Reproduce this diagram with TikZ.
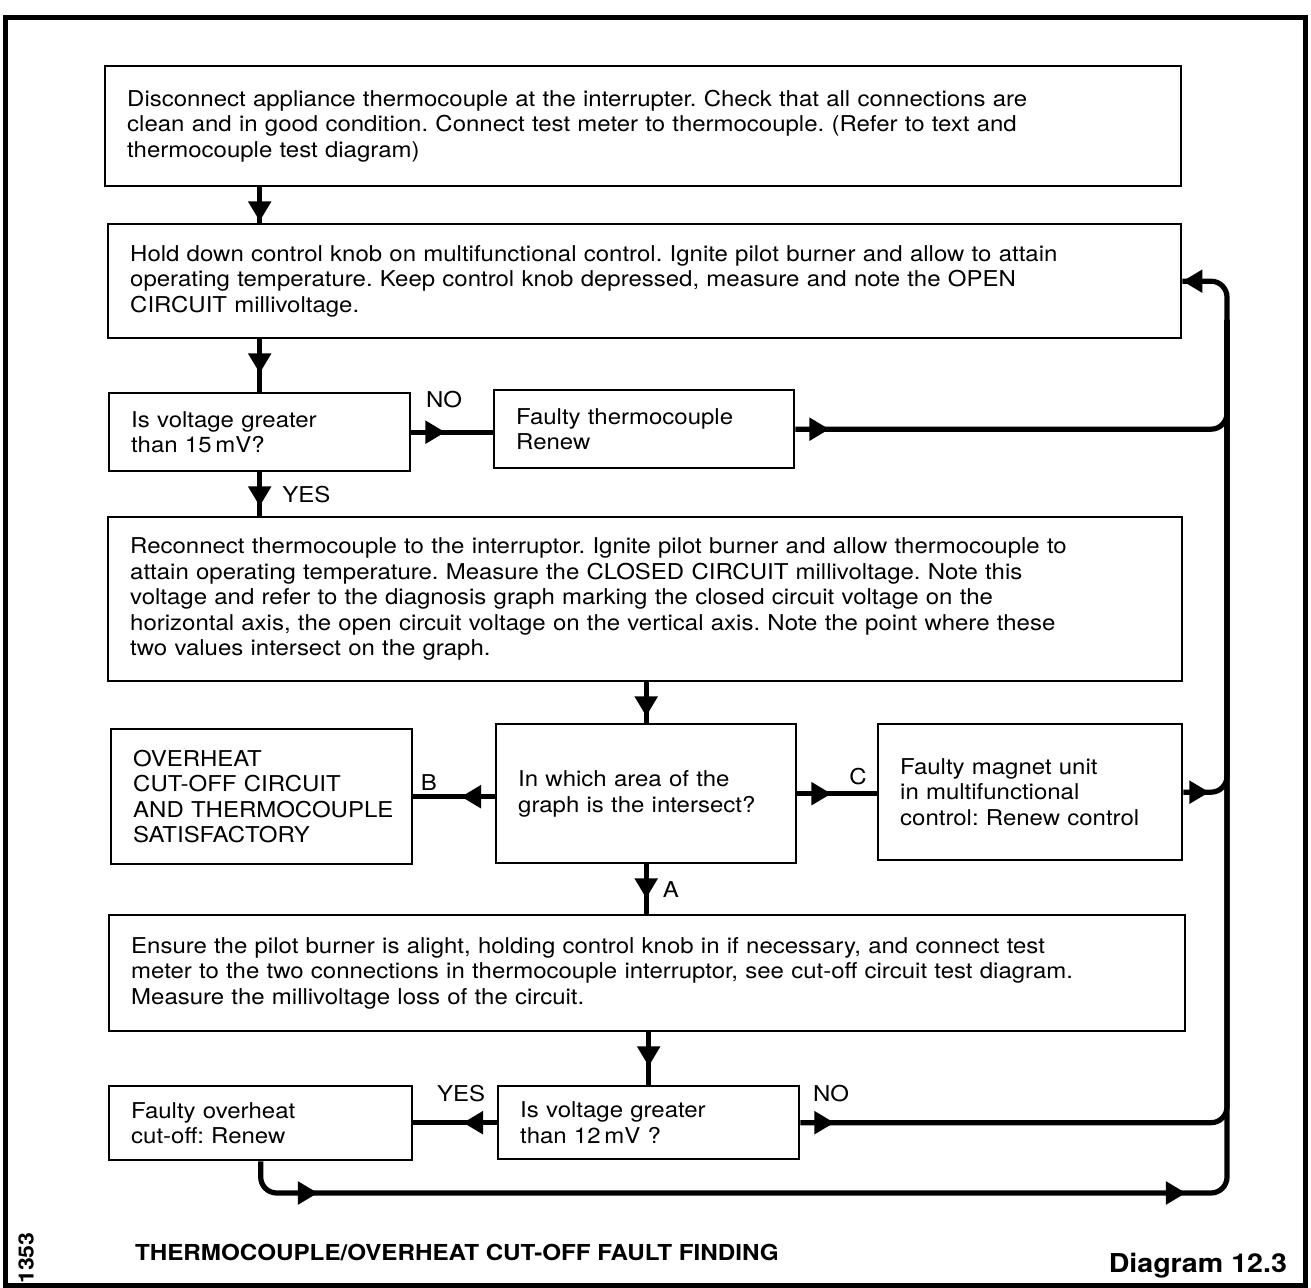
\documentclass[tikz,border=0pt]{standalone}
\usepackage{fontspec}
\setmainfont{TeX Gyre Heros}[FakeStretch=1.1]
\usetikzlibrary{arrows.meta,decorations.markings}
\frenchspacing

\begin{document}
\begin{tikzpicture}[x=0.5pt, y=-0.5pt,
  box/.style={draw, line width=1.2pt, anchor=north west, align=left,
    inner xsep=11pt, inner ysep=2pt, font=\fontsize{10.9}{12.75}\selectfont},
  link/.style={line width=2.6pt, rounded corners=8pt},
  tipat/.style={postaction={decorate, decoration={markings,
    mark=at position #1 with {\arrow{Triangle[length=10pt,width=11pt]}}}}},
  lbl/.style={font=\fontsize{10.9}{12}\selectfont, inner sep=2pt}]
  \useasboundingbox (0,0) rectangle (1311,1288);
  \draw[line width=2.5pt] (5,18) rectangle (1305,1285);

  \node[box, text width=516pt, minimum height=60pt] (disc) at (104,65)
    {Disconnect appliance thermocouple at the interrupter. Check that all connections are\\
     clean and in good condition. Connect test meter to thermocouple. (Refer to text and\\
     thermocouple test diagram)};
  \node[box, text width=514.5pt, minimum height=57pt] (hold) at (107,223)
    {Hold down control knob on multifunctional control. Ignite pilot burner and allow to attain\\
     operating temperature. Keep control knob depressed, measure and note the OPEN\\
     CIRCUIT millivoltage.};
  \node[box, text width=128.5pt, minimum height=39pt] (q15) at (108,392)
    {Is voltage greater\\ than 15\,mV?};
  \node[box, text width=128pt, minimum height=39pt] (fault) at (493,389)
    {Faulty thermocouple\\ Renew};
  \node[box, text width=515pt, minimum height=82pt] (recon) at (107,516)
    {Reconnect thermocouple to the interruptor. Ignite pilot burner and allow thermocouple to\\
     attain operating temperature. Measure the CLOSED CIRCUIT millivoltage. Note this\\
     voltage and refer to the diagnosis graph marking the closed circuit voltage on the\\
     horizontal axis, the open circuit voltage on the vertical axis. Note the point where these\\
     two values intersect on the graph.};
  \node[box, text width=128pt, minimum height=69.5pt] (area) at (495,723)
    {In which area of the\\ graph is the intersect?};
  \node[box, text width=128.5pt, minimum height=67.5pt] (sat) at (110,728)
    {OVERHEAT\\ CUT-OFF CIRCUIT\\ \mbox{AND THERMOCOUPLE}\\ SATISFACTORY};
  \node[box, text width=130pt, minimum height=68pt] (magnet) at (877,723)
    {Faulty magnet unit\\ in multifunctional\\ control: Renew control};
  \node[box, text width=516pt, minimum height=58pt] (ensure) at (108,914)
    {Ensure the pilot burner is alight, holding control knob in if necessary, and connect test\\
     meter to the two connections in thermocouple interruptor, see cut-off circuit test diagram.\\
     Measure the millivoltage loss of the circuit.};
  \node[box, text width=128.5pt, minimum height=36.5pt] (q12) at (497,1085)
    {Is voltage greater\\ than 12\,mV ?};
  \node[box, text width=129.5pt, minimum height=37pt] (renew) at (108,1085)
    {Faulty overheat\\ cut-off: Renew};

  \coordinate (busb) at (1227,1193);
  \coordinate (busj) at (1227,320);

  % main flow
  \draw[link, tipat=17pt] (disc.south -| q15) -- (hold.north -| q15);
  \draw[link, tipat=17pt] (hold.south -| q15) -- (q15.north);
  \draw[link, tipat=17pt] (q15.east) -- node[lbl, above=9pt, pos=0.4] {NO} (q15.east -| fault.west);
  \draw[link, tipat=17pt] (q15.south) -- node[lbl, right=8pt] {YES} (recon.north -| q15);
  \draw[link, tipat=17pt] (recon.south -| area) -- (area.north);
  \draw[link, tipat=17pt] (area.west |- sat.east) -- node[lbl, above, pos=0.81] {B} (sat.east);
  \draw[link, tipat=17pt] (area.east) -- node[lbl, above=1pt, pos=0.76] {C} (area.east -| magnet.west);
  \draw[link, tipat=17pt] (area.south) -- node[lbl, right=5pt] {A} (ensure.north -| area);
  \draw[link, tipat=17pt] (ensure.south -| q12) -- (q12.north);
  \draw[link, tipat=17pt] (q12.west) -- node[lbl, above=7pt, pos=0.43] {YES} (q12.west -| renew.east);

  % return line
  \draw[link, tipat=17pt] (fault.east) -| (busj);
  \draw[link, tipat=13pt] (magnet.east) -| (busj);
  \draw[link, tipat=17pt] (q12.east) -| node[lbl, above=7pt, pos=0.036] {NO} (busj);
  \draw[link, tipat=41pt, tipat=475pt, tipat=1] (renew.south) |- (busb) |- (hold.east);

  \node[anchor=west, font=\bfseries\fontsize{11}{13}\selectfont] (title) at (128,1252)
    {THERMOCOUPLE/OVERHEAT CUT-OFF FAULT FINDING};
  \node[anchor=east, font=\bfseries\fontsize{13}{15}\selectfont] (diag) at (1294,1266)
    {Diagram 12.3};
  \node[rotate=90, font=\bfseries\fontsize{10.5}{12}\selectfont] (fig) at (26,1258) {1353};
\end{tikzpicture}
\end{document}
